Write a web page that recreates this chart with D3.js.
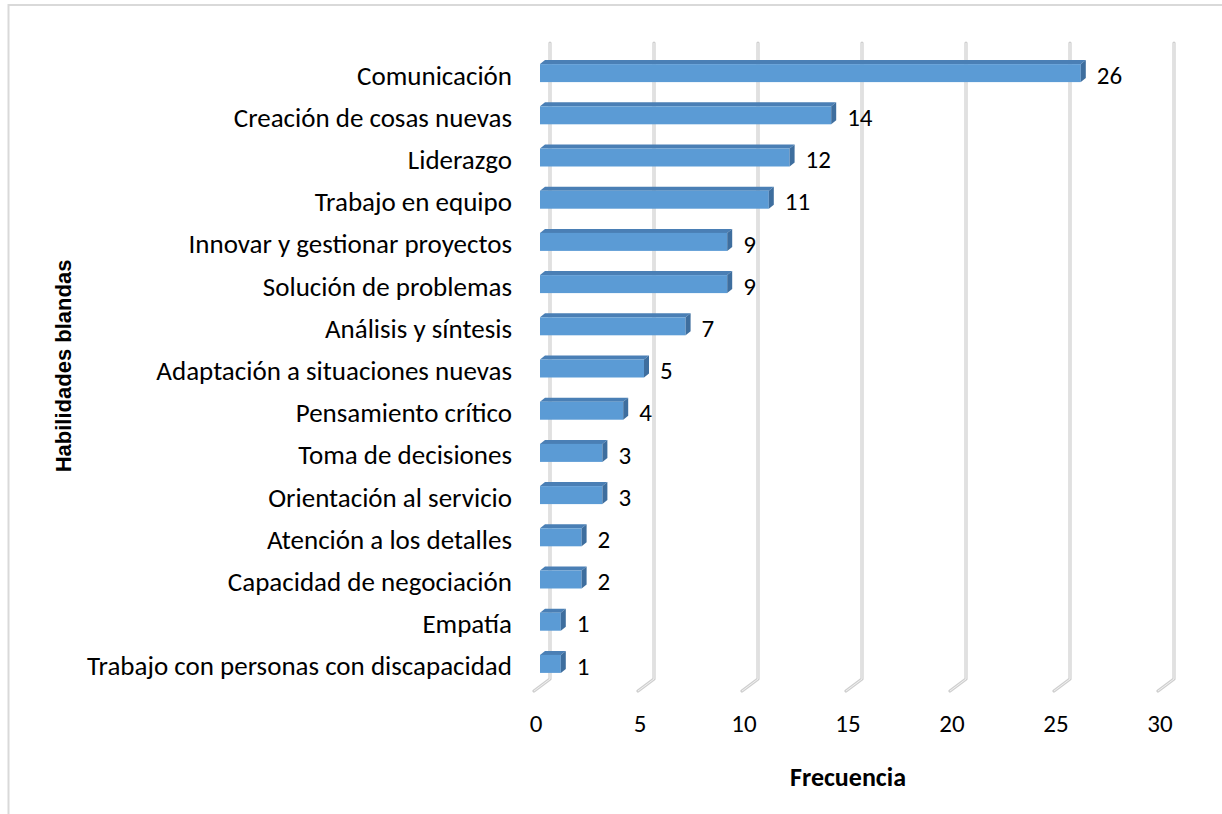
<!DOCTYPE html>
<html>
<head>
<meta charset="utf-8">
<script src="https://cdn.jsdelivr.net/npm/d3@7"></script>
<style>
  html, body { margin: 0; padding: 0; background: #fff; }
  svg { display: block; }
  .lbl { font-family: Carlito, Calibri, Lato, "Open Sans", sans-serif; fill: #000; }
</style>
</head>
<body>
<svg id="chart" width="1222" height="814"></svg>
<script>
// Soft skills and how often each was mentioned
const categories = [
  "Comunicación",
  "Creación de cosas nuevas",
  "Liderazgo",
  "Trabajo en equipo",
  "Innovar y gestionar proyectos",
  "Solución de problemas",
  "Análisis y síntesis",
  "Adaptación a situaciones nuevas",
  "Pensamiento crítico",
  "Toma de decisiones",
  "Orientación al servicio",
  "Atención a los detalles",
  "Capacidad de negociación",
  "Empatía",
  "Trabajo con personas con discapacidad"
];
const values = [26, 14, 12, 11, 9, 9, 7, 5, 4, 3, 3, 2, 2, 1, 1];
const xTicks = [0, 5, 10, 15, 20, 25, 30];
const xTitle = "Frecuencia";
const yTitle = "Habilidades blandas";

const svg = d3.select("#chart");

// outer chart frame
svg.append("rect")
  .attr("x", 8.5).attr("y", 5)
  .attr("width", 1240).attr("height", 840)
  .attr("fill", "none").attr("stroke", "#d9d9d9").attr("stroke-width", 2);

const x = d3.scaleLinear().domain([0, 30]).range([540, 1164]);
const y = d3.scaleBand().domain(categories).range([54, 687]);

// oblique depth of the 3D plot
const backDx = 10, frontDx = -6, gridTop = 43, floorBack = 679, floorFront = 691;

// gridlines on the back wall, bending down onto the floor
const grid = svg.append("g");
xTicks.forEach(t => {
  const path = `M${x(t) + backDx},${gridTop} L${x(t) + backDx},${floorBack} L${x(t) + frontDx},${floorFront}`;
  grid.append("path").attr("d", path).attr("fill", "none")
    .attr("stroke", "#cfcfcf").attr("stroke-width", 3.2)
    .attr("stroke-linecap", "round").attr("stroke-linejoin", "round");
  grid.append("path").attr("d", path).attr("fill", "none")
    .attr("stroke", "#f2f2f2").attr("stroke-width", 1);
});

// 3D bars: top face, front face, side face
const dx = 5, dy = 4, barH = 18;
const bars = svg.append("g");
categories.forEach((c, i) => {
  const v = values[i];
  const yc = y(c) + y.bandwidth() / 2;
  const top = yc - 11, x0 = x(0), x1 = x(v);
  const g = bars.append("g");
  g.append("path")
    .attr("d", `M${x0},${top} L${x0 + dx},${top - dy} L${x1 + dx},${top - dy} L${x1},${top} Z`)
    .attr("fill", "#4a7fb5");
  g.append("rect")
    .attr("x", x0).attr("y", top).attr("width", x1 - x0).attr("height", barH)
    .attr("fill", "#5b9bd5");
  g.append("path")
    .attr("d", `M${x1},${top} L${x1 + dx},${top - dy} L${x1 + dx},${top + barH - dy} L${x1},${top + barH} Z`)
    .attr("fill", "#3e6e9e");
  // value label
  svg.append("text").attr("class", "lbl")
    .attr("x", x1 + 16).attr("y", yc)
    .attr("dy", "0.35em").attr("font-size", 25)
    .text(v);
});

// category labels
svg.append("g").selectAll("text").data(categories).join("text")
  .attr("class", "lbl")
  .attr("x", 512)
  .attr("y", d => y(d) + y.bandwidth() / 2)
  .attr("dy", "0.35em")
  .attr("text-anchor", "end")
  .attr("font-size", 27)
  .text(d => d);

// value axis labels
svg.append("g").selectAll("text").data(xTicks).join("text")
  .attr("class", "lbl")
  .attr("x", d => x(d) - 4)
  .attr("y", 723)
  .attr("dy", "0.35em")
  .attr("text-anchor", "middle")
  .attr("font-size", 25)
  .text(d => d);

// axis titles
svg.append("text").attr("class", "lbl")
  .attr("x", 848).attr("y", 777).attr("dy", "0.35em")
  .attr("text-anchor", "middle").attr("font-size", 26).attr("font-weight", "bold")
  .text(xTitle);

svg.append("text")
  .attr("transform", "translate(63,366) rotate(-90)")
  .attr("dy", "0.35em")
  .attr("text-anchor", "middle")
  .attr("font-family", "Liberation Sans, Arial, sans-serif")
  .attr("font-size", 22).attr("font-weight", "bold")
  .text(yTitle);
</script>
</body>
</html>
